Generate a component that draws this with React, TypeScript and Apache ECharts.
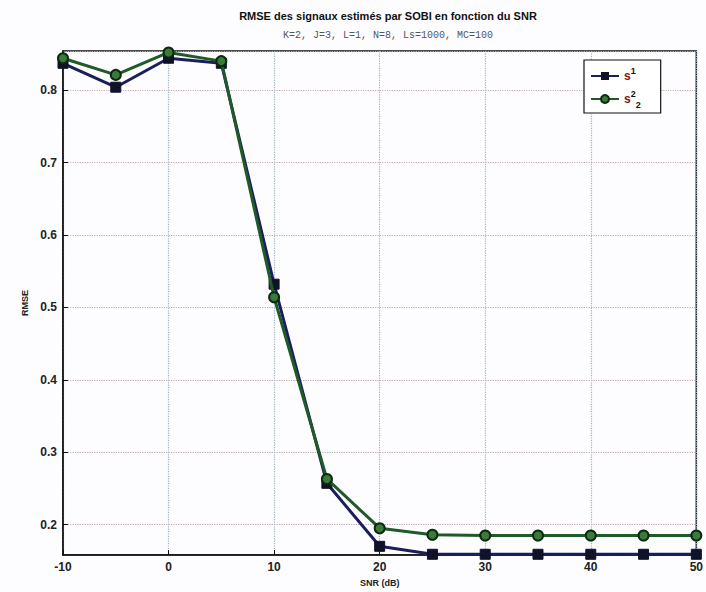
import React, { useEffect, useRef } from "react";
import * as echarts from "echarts";

const snr = [-10, -5, 0, 5, 10, 15, 20, 25, 30, 35, 40, 45, 50];
const s1Values = [0.837, 0.804, 0.844, 0.837, 0.532, 0.257, 0.17, 0.159, 0.159, 0.159, 0.159, 0.159, 0.159];
const s2Values = [0.844, 0.821, 0.852, 0.84, 0.514, 0.263, 0.195, 0.186, 0.185, 0.185, 0.185, 0.185, 0.185];
const titleText = "RMSE des signaux estimés par SOBI en fonction du SNR";
const subtitleText = "K=2, J=3, L=1, N=8, Ls=1000, MC=100";

export default function App() {
  const ref = useRef<HTMLDivElement>(null);
  useEffect(() => {
    if (!ref.current) return;
    const chart = echarts.init(ref.current, undefined, { renderer: "svg" });
    const font = "Liberation Sans";
    chart.setOption({
      animation: false,
      backgroundColor: "#fdfdff",
      title: {
        text: titleText,
        subtext: subtitleText,
        left: 383,
        top: 5,
        textAlign: "center",
        itemGap: 9,
        textStyle: { fontFamily: font, fontSize: 11, fontWeight: "bold", color: "#111" },
        subtextStyle: { fontFamily: "Liberation Mono", fontSize: 10, color: "#555" },
      },
      legend: {
        orient: "vertical",
        left: 584,
        top: 60,
        padding: [6, 20, 4, 6],
        itemWidth: 28,
        itemHeight: 10,
        itemGap: 6,
        backgroundColor: "#fff",
        borderColor: "#111",
        borderWidth: 1.2,
        data: ["s1", "s2"],
        formatter: (name: string) => (name === "s1" ? "{s|s}{sup|1}" : "{s|s}{sup|2}{sub|2}"),
        textStyle: {
          fontFamily: font,
          color: "#8a1010",
          rich: {
            s: { fontSize: 12, fontWeight: "bold", color: "#8a1010", lineHeight: 20 },
            sup: { fontSize: 9, fontWeight: "bold", color: "#111", verticalAlign: "top", lineHeight: 20, padding: [0, 0, 8, 0] },
            sub: { fontSize: 9, fontWeight: "bold", color: "#111", verticalAlign: "bottom", lineHeight: 20, padding: [8, 0, 0, 0] },
          },
        },
      },
      grid: {
        left: 63,
        right: 3,
        top: 51,
        bottom: 36,
        show: true,
        borderColor: "#111",
        borderWidth: 1.5,
        backgroundColor: "transparent",
      },
      xAxis: {
        type: "value",
        min: -10,
        max: 50,
        interval: 10,
        name: "SNR (dB)",
        nameLocation: "middle",
        nameGap: 23,
        nameTextStyle: { fontFamily: font, fontSize: 9, fontWeight: "bold", color: "#222" },
        axisLine: { show: true, onZero: false, lineStyle: { color: "#111", width: 1.5 } },
        axisTick: { show: true, inside: true, length: 5, lineStyle: { color: "#111" } },
        axisLabel: { fontFamily: font, fontSize: 12, fontWeight: "bold", color: "#222", margin: 6 },
        splitLine: { show: true, lineStyle: { type: "dotted", color: "#9fb2cc", width: 1.2 } },
      },
      yAxis: {
        type: "value",
        min: 0.158,
        max: 0.854,
        splitNumber: 7,
        name: "RMSE",
        nameLocation: "middle",
        nameRotate: 90,
        nameGap: 26,
        nameTextStyle: { fontFamily: font, fontSize: 9, fontWeight: "bold", color: "#222" },
        axisLine: { show: true, onZero: false, lineStyle: { color: "#111", width: 1.5 } },
        axisTick: { show: true, inside: true, length: 5, lineStyle: { color: "#111" } },
        axisLabel: {
          fontFamily: font,
          fontSize: 12,
          fontWeight: "bold",
          color: "#222",
          margin: 6,
          showMinLabel: false,
          showMaxLabel: false,
          formatter: (v: number) => v.toFixed(1),
        },
        splitLine: { show: true, lineStyle: { type: "dotted", color: "#c0a8b8", width: 1.2 } },
      },
      series: [
        {
          name: "s1",
          type: "line",
          data: snr.map((x, i) => [x, s1Values[i]]),
          symbol: "rect",
          symbolSize: 10,
          clip: false,
          lineStyle: { color: "#1a1f5c", width: 3 },
          itemStyle: { color: "#10122a", borderColor: "#10122a" },
          z: 3,
        },
        {
          name: "s2",
          type: "line",
          data: snr.map((x, i) => [x, s2Values[i]]),
          symbol: "circle",
          symbolSize: 10,
          clip: false,
          lineStyle: { color: "#1f5a28", width: 3 },
          itemStyle: { color: "#3a7a3a", borderColor: "#0c2a10", borderWidth: 2 },
          z: 4,
        },
      ],
    });
    return () => chart.dispose();
  }, []);
  return <div ref={ref} style={{ position: "fixed", left: 0, top: 0, width: 706, height: 592 }} />;
}
